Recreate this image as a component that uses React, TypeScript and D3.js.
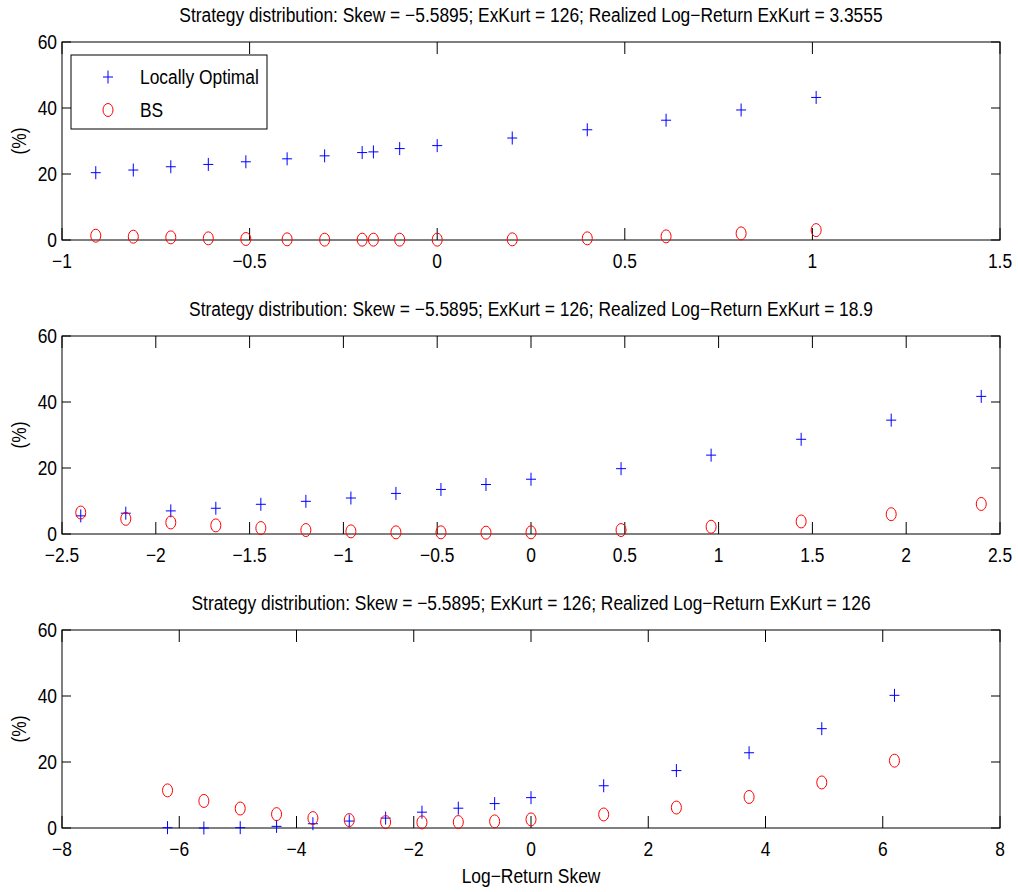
import React from "react";
import { scaleLinear, range } from "d3";

// skew values on the x axis, one set per subplot
const skew1 = [-0.91, -0.81, -0.71, -0.61, -0.51, -0.4, -0.3, -0.2, -0.17, -0.1, 0, 0.2, 0.4, 0.61, 0.81, 1.01];
const lo1 = [20.4, 21.2, 22.2, 22.9, 23.7, 24.6, 25.5, 26.5, 26.7, 27.7, 28.6, 30.9, 33.4, 36.3, 39.4, 43.2];
const bs1 = [1.3, 1.0, 0.8, 0.5, 0.3, 0.2, 0.1, 0.1, 0.1, 0.1, 0.1, 0.2, 0.5, 1.1, 2.0, 3.0];

const skew2 = [-2.4, -2.16, -1.92, -1.68, -1.44, -1.2, -0.96, -0.72, -0.48, -0.24, 0, 0.48, 0.96, 1.44, 1.92, 2.4];
const lo2 = [5.5, 6.3, 7.0, 7.8, 9.0, 9.9, 10.9, 12.3, 13.5, 15.0, 16.6, 19.8, 23.9, 28.7, 34.5, 41.7];
const bs2 = [6.5, 4.6, 3.5, 2.6, 1.8, 1.2, 0.8, 0.5, 0.5, 0.4, 0.5, 1.2, 2.2, 3.8, 6.0, 9.1];

const skew3 = [-6.2, -5.58, -4.96, -4.34, -3.72, -3.1, -2.48, -1.86, -1.24, -0.62, 0, 1.24, 2.48, 3.72, 4.96, 6.2];
const lo3 = [0.1, 0, 0.1, 0.5, 1.3, 2.1, 3.0, 4.8, 6.0, 7.4, 9.2, 12.8, 17.4, 22.8, 30.1, 40.2];
const bs3 = [11.4, 8.2, 5.9, 4.2, 3.0, 2.4, 1.8, 1.7, 1.8, 2.0, 2.6, 4.1, 6.2, 9.4, 13.8, 20.4];

const realizedKurt = ["3.3555", "18.9", "126"];
const xDomains = [[-1, 1.5], [-2.5, 2.5], [-8, 8]];
const xSteps = [0.5, 0.5, 2];
const yTicks = [0, 20, 40, 60];
const seriesNames = ["Locally Optimal", "BS"];

const panels = [
  { x: skew1, lo: lo1, bs: bs1 },
  { x: skew2, lo: lo2, bs: bs2 },
  { x: skew3, lo: lo3, bs: bs3 },
];

const W = 1018;
const H = 892;
const left = 62;
const right = 1000;
const plotH = 198;
const tops = [42, 336, 630];
const font = "'Liberation Sans', Arial, sans-serif";
const fs = 20;
const squeeze = 0.87; // the original font is a narrow helvetica

const fmt = (v: number) => (v < 0 ? "\u2212" + String(-v) : String(v));

function Txt({
  x,
  y,
  anchor = "start",
  rotate = 0,
  dy,
  children,
}: {
  x: number;
  y: number;
  anchor?: string;
  rotate?: number;
  dy?: string;
  children: React.ReactNode;
}) {
  return (
    <text
      transform={`translate(${x},${y}) rotate(${rotate}) scale(${squeeze},1)`}
      textAnchor={anchor}
      dy={dy}
      fontSize={fs}
      fontFamily={font}
      fill="black"
    >
      {children}
    </text>
  );
}

function Plus({ cx, cy }: { cx: number; cy: number }) {
  return (
    <path
      d={`M${cx - 5},${cy}H${cx + 5}M${cx},${cy - 6.5}V${cy + 6.5}`}
      stroke="#0000ff"
      strokeWidth={1}
      fill="none"
    />
  );
}

function Ring({ cx, cy }: { cx: number; cy: number }) {
  return <ellipse cx={cx} cy={cy} rx={5} ry={6.5} stroke="#ff0000" strokeWidth={1} fill="none" />;
}

function Panel({ i }: { i: number }) {
  const top = tops[i];
  const bottom = top + plotH;
  const [x0, x1] = xDomains[i];
  const xs = scaleLinear().domain([x0, x1]).range([left, right]);
  const ys = scaleLinear().domain([0, 60]).range([bottom, top]);
  const xTicks = range(x0, x1 + 1e-9, xSteps[i]);
  const p = panels[i];
  const title = `Strategy distribution: Skew = \u22125.5895; ExKurt = 126; Realized Log\u2212Return ExKurt = ${realizedKurt[i]}`;
  return (
    <g>
      <Txt x={(left + right) / 2} y={top - 20} anchor="middle">
        {title}
      </Txt>
      <rect x={left} y={top} width={right - left} height={plotH} fill="white" stroke="black" strokeWidth={1} />
      {xTicks.map((t) => (
        <g key={"x" + t}>
          <line x1={xs(t)} x2={xs(t)} y1={bottom} y2={bottom - 12} stroke="black" />
          <line x1={xs(t)} x2={xs(t)} y1={top} y2={top + 12} stroke="black" />
          <Txt x={xs(t)} y={bottom + 28} anchor="middle">
            {fmt(t)}
          </Txt>
        </g>
      ))}
      {yTicks.map((t) => (
        <g key={"y" + t}>
          <line x1={left} x2={left + 9} y1={ys(t)} y2={ys(t)} stroke="black" />
          <line x1={right} x2={right - 9} y1={ys(t)} y2={ys(t)} stroke="black" />
          <Txt x={left - 5} y={ys(t)} dy="0.36em" anchor="end">
            {t}
          </Txt>
        </g>
      ))}
      <Txt x={26} y={(top + bottom) / 2} rotate={-90} anchor="middle">
        (%)
      </Txt>
      {p.x.map((v, j) => (
        <Plus key={"lo" + j} cx={xs(v)} cy={ys(p.lo[j])} />
      ))}
      {p.x.map((v, j) => (
        <Ring key={"bs" + j} cx={xs(v)} cy={ys(p.bs[j])} />
      ))}
    </g>
  );
}

export default function App() {
  return (
    <svg width={W} height={H} style={{ position: "absolute", left: 0, top: 0, background: "white" }}>
      <rect width={W} height={H} fill="white" />
      {[0, 1, 2].map((i) => (
        <Panel key={i} i={i} />
      ))}
      {/* legend sits in the first subplot */}
      <g>
        <rect x={71} y={55} width={196} height={74} fill="white" stroke="black" strokeWidth={1} />
        <Plus cx={108} cy={77} />
        <Ring cx={108} cy={110} />
        <Txt x={140} y={77} dy="0.36em">
          {seriesNames[0]}
        </Txt>
        <Txt x={140} y={110} dy="0.36em">
          {seriesNames[1]}
        </Txt>
      </g>
      <Txt x={(left + right) / 2} y={883} anchor="middle">
        Log{"\u2212"}Return Skew
      </Txt>
    </svg>
  );
}
